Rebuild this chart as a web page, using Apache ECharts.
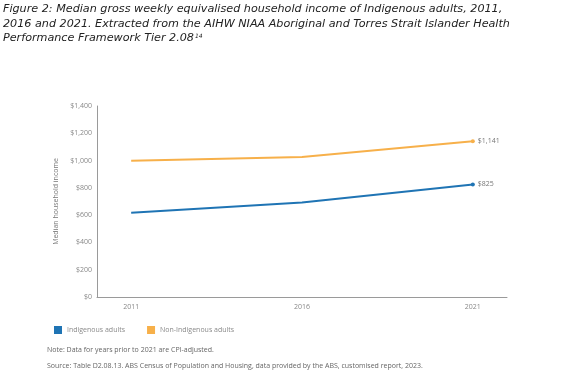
<!DOCTYPE html>
<html>
<head>
<meta charset="utf-8">
<script src="https://cdn.jsdelivr.net/npm/echarts@6/dist/echarts.min.js"></script>
<style>html,body{margin:0;padding:0;background:#fff;}#c{width:567px;height:372px;}</style>
</head>
<body>
<div id="c"></div>
<script>
const years = [2011, 2016, 2021];
const indigenous = [617, 693, 825];
const nonIndigenous = [998, 1027, 1141];
const seriesNames = ['Indigenous adults', 'Non-Indigenous adults'];
const titleLines = [
  'Figure 2: Median gross weekly equivalised household income of Indigenous adults, 2011,',
  '2016 and 2021. Extracted from the AIHW NIAA Aboriginal and Torres Strait Islander Health',
  'Performance Framework Tier 2.08'
];
const yAxisName = 'Median household income';
const noteText = 'Note: Data for years prior to 2021 are CPI-adjusted.';
const sourceText = 'Source: Table D2.08.13. ABS Census of Population and Housing, data provided by the ABS, customised report, 2023.';

function fmt(v){ return '$' + v.toLocaleString('en-US'); }
function mk(vals){
  return vals.map((v,i)=>{
    const last = i === vals.length-1;
    return {value:[years[i], v], symbol: last ? 'circle':'none', symbolSize: last ? 4 : 0,
      label: last ? {show:true, position:'right', distance:3, formatter: fmt(v), color:'#777', fontSize:7, fontFamily:'Open Sans'} : {show:false}};
  });
}
const tFam = 'DejaVu Sans';
const tSize = 11;
const ctx = document.createElement('canvas').getContext('2d');
ctx.font = 'italic ' + tSize + 'px "' + tFam + '"';
const w1 = ctx.measureText(titleLines[0]).width;
const targetW = 500;
const size = Math.min(12, tSize * targetW / w1);
ctx.font = 'italic ' + size + 'px "' + tFam + '"';
const w3 = ctx.measureText(titleLines[2]).width;
function tStyle(t){ return {text:t, fontFamily:tFam, fontSize:size, fontStyle:'italic', fill:'#222'}; }

const chart = echarts.init(document.getElementById('c'), null, {renderer:'canvas'});
chart.setOption({
  animation:false,
  backgroundColor:'#fff',
  grid:{left:97, right:60, top:106, bottom:75},
  xAxis:{type:'value', min:2010, max:2022, interval:1,
    axisLine:{show:true, lineStyle:{color:'#9a9a9a', width:1}},
    axisTick:{show:false}, splitLine:{show:false},
    axisLabel:{color:'#888', fontSize:7, fontFamily:'Open Sans', margin:6,
      formatter:v => years.indexOf(v) >= 0 ? String(v) : ''}},
  yAxis:{type:'value', min:0, max:1400, interval:200,
    name:yAxisName, nameLocation:'middle', nameGap:31, nameRotate:90,
    nameTextStyle:{color:'#777', fontSize:7, fontFamily:'Open Sans'},
    axisLine:{show:true, lineStyle:{color:'#9a9a9a', width:1}},
    axisTick:{show:false}, splitLine:{show:false},
    axisLabel:{color:'#888', fontSize:7, fontFamily:'Open Sans', margin:5, formatter:fmt}},
  legend:{left:49, top:321, itemWidth:8, itemHeight:8, itemGap:22, icon:'rect',
    textStyle:{color:'#8a8a8a', fontSize:7, fontFamily:'Open Sans'}, data:seriesNames},
  series:[
    {name:seriesNames[0], type:'line', data:mk(indigenous), color:'#1f74b4',
      lineStyle:{width:2, color:'#1f74b4'}, itemStyle:{color:'#1f74b4'}},
    {name:seriesNames[1], type:'line', data:mk(nonIndigenous), color:'#f7b04a',
      lineStyle:{width:2, color:'#f7b04a'}, itemStyle:{color:'#f7b04a'}}
  ],
  graphic:[
    {type:'text', left:3, top:4, style:tStyle(titleLines[0])},
    {type:'text', left:3, top:19, style:tStyle(titleLines[1])},
    {type:'text', left:3, top:33, style:tStyle(titleLines[2])},
    {type:'text', left:3 + w3 + 1, top:33, style:{text:'14', fontFamily:tFam, fontSize:6, fontStyle:'italic', fill:'#222'}},
    {type:'text', left:47, top:346, style:{text:noteText, fontFamily:'Open Sans', fontSize:7, fill:'#666'}},
    {type:'text', left:47, top:362, style:{text:sourceText, fontFamily:'Open Sans', fontSize:7, fill:'#666'}}
  ]
});
</script>
</body>
</html>
